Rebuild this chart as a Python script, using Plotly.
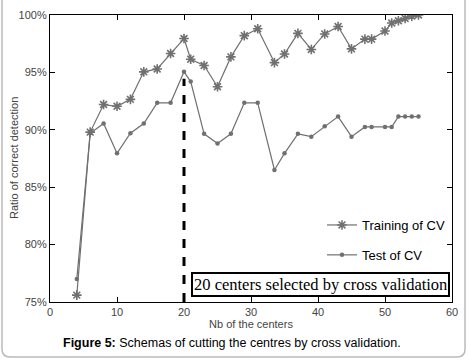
import plotly.graph_objects as go

centers = [4, 6, 8, 10, 12, 14, 16, 18, 20, 21, 23, 25, 27, 29, 31, 33.5, 35, 37, 39, 41,
           43, 45, 47, 48, 50, 51, 52, 53, 54, 55]
training_cv = [75.6, 89.8, 92.2, 92.05, 92.65, 95.05, 95.3, 96.65, 97.95, 96.15, 95.6, 93.75,
               96.35, 98.2, 98.8, 95.85, 96.6, 98.4, 97.0, 98.35, 99.0, 97.05, 97.9, 97.9,
               98.6, 99.3, 99.5, 99.7, 99.9, 100.0]
test_cv = [77.0, 89.7, 90.55, 87.95, 89.7, 90.55, 92.35, 92.35, 95.05, 94.2, 89.65, 88.8,
           89.65, 92.35, 92.35, 86.5, 87.95, 89.65, 89.4, 90.3, 91.15, 89.4, 90.25, 90.25,
           90.25, 90.25, 91.15, 91.15, 91.15, 91.15]
selected_center = 20
y_ticks = [75, 80, 85, 90, 95, 100]
y_tick_labels = ["75%", "80%", "85%", "90%", "95%", "100%"]
x_ticks = [0, 10, 20, 30, 40, 50, 60]

W, H = 468, 362
ML, MR, MT, MB = 50, 16, 15, 60
PW, PH = W - ML - MR, H - MT - MB


def px2paper(px, py):
    return (px - ML) / PW, (H - MB - py) / PH


LINE = "#707070"
AXFONT = dict(family="Liberation Sans, Arial", size=11, color="#444")
fig = go.Figure()

sel_idx = centers.index(selected_center)
fig.add_trace(go.Scatter(
    x=[selected_center, selected_center], y=[y_ticks[0], test_cv[sel_idx] - 0.6],
    mode="lines", line=dict(color="black", width=3, dash="dash"),
    showlegend=False, hoverinfo="skip"))

fig.add_trace(go.Scatter(
    x=centers, y=training_cv, mode="lines+markers", name="Training of CV",
    line=dict(color=LINE, width=1.2),
    marker=dict(symbol="asterisk-open", size=8, color=LINE, line=dict(color=LINE, width=1.6)),
    legendgroup="a"))
fig.add_trace(go.Scatter(
    x=centers, y=test_cv, mode="lines+markers", name="Test of CV",
    line=dict(color=LINE, width=1.2),
    marker=dict(symbol="circle", size=4.5, color=LINE),
    legendgroup="b"))

axis_common = dict(showline=True, linecolor="black", linewidth=1.2, mirror="ticks",
                   ticks="inside", ticklen=5, tickcolor="black", showgrid=False,
                   zeroline=False, automargin=False, tickfont=AXFONT)

fig.update_xaxes(range=[0, 60], tickvals=x_ticks, **axis_common,
                 title=dict(text="Nb of the centers", standoff=0, font=AXFONT))
fig.update_yaxes(range=[75, 100], tickvals=y_ticks, ticktext=y_tick_labels, **axis_common)

tx, ty = px2paper(14, 158)
fig.add_annotation(xref="paper", yref="paper", x=tx, y=ty, xanchor="center", yanchor="middle",
                   showarrow=False, textangle=-90, text="Ratio of correct detection", font=AXFONT)

bx, by = px2paper(320, 284)
fig.add_annotation(xref="paper", yref="paper", x=bx, y=by, xanchor="center", yanchor="middle",
                   showarrow=False,
                   text="20 centers selected by cross validation",
                   font=dict(family="Liberation Serif, Times New Roman", size=16.5, color="black"),
                   bordercolor="black", borderwidth=2, borderpad=1, bgcolor="white")

cx, cy = px2paper(232, 343)
fig.add_annotation(xref="paper", yref="paper", x=cx, y=cy, xanchor="center", yanchor="middle",
                   showarrow=False,
                   text="<b>Figure 5:</b> Schemas of cutting the centres by cross validation.",
                   font=dict(family="Liberation Sans, Arial", size=12.5, color="black"))

x0, y0 = px2paper(2, -2)
x1, y1 = px2paper(465, 357)
rx = 8 / PW
ry = 8 / PH
path = (f"M {x0},{y0} L {x0},{y1 + ry} Q {x0},{y1} {x0 + rx},{y1} "
        f"L {x1 - rx},{y1} Q {x1},{y1} {x1},{y1 + ry} L {x1},{y0}")
fig.add_shape(type="path", path=path, xref="paper", yref="paper",
              line=dict(color="#bbbbbb", width=1.5), layer="below")

lx, ly = px2paper(322, 210)
fig.update_layout(
    width=W, height=H, margin=dict(l=ML, r=MR, t=MT, b=MB),
    paper_bgcolor="white", plot_bgcolor="white",
    legend=dict(x=lx, y=ly, xanchor="left", yanchor="top", bgcolor="rgba(0,0,0,0)",
                font=dict(family="Liberation Sans, Arial", size=13, color="black"),
                tracegroupgap=10, traceorder="grouped"),
)

fig.write_html("out.html", config={"displayModeBar": False},
               post_script="document.body.style.margin='0';document.body.style.overflow='hidden';")
